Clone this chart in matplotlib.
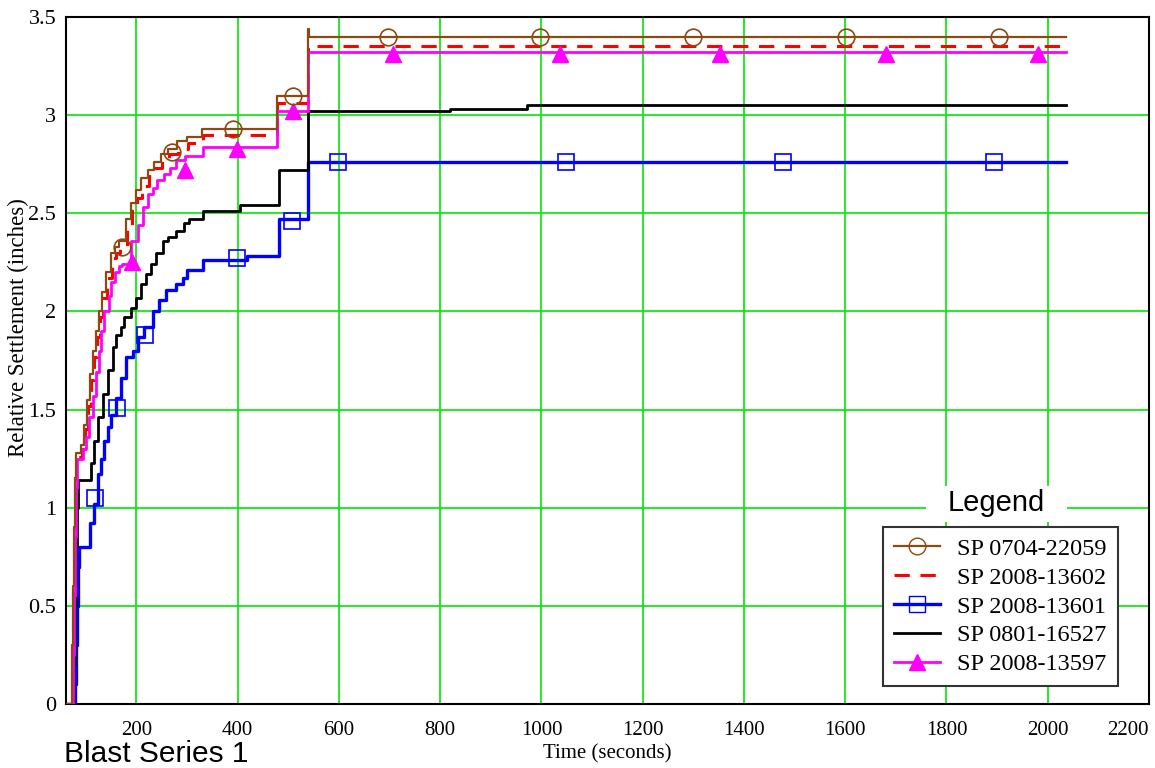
import matplotlib
matplotlib.use('Agg')
import matplotlib.pyplot as plt
from matplotlib.lines import Line2D
from matplotlib.patches import Rectangle

# step data (time in seconds, settlement in inches)
t_0704 = [61, 72, 74, 76, 78, 80, 90, 96, 102, 108, 114, 120, 126, 132, 140, 150,
          158, 166, 180, 190, 200, 210, 222, 235, 248, 262, 280, 300, 330, 478,
          539, 541, 2037]
s_0704 = [0, 0.3, 0.6, 0.9, 1.15, 1.28, 1.32, 1.42, 1.55, 1.68, 1.80, 1.90, 2.00,
          2.10, 2.20, 2.30, 2.33, 2.36, 2.47, 2.55, 2.62, 2.68, 2.72, 2.76, 2.80,
          2.83, 2.87, 2.89, 2.93, 3.10, 3.44, 3.40, 3.40]

t_13602 = [61, 73, 75, 77, 79, 81, 92, 98, 104, 110, 116, 122, 128, 134, 142, 152,
           160, 168, 182, 192, 202, 212, 224, 237, 250, 264, 282, 302, 332, 478,
           539, 2037]
s_13602 = [0, 0.3, 0.6, 0.9, 1.12, 1.26, 1.30, 1.40, 1.52, 1.65, 1.77, 1.87, 1.97,
           2.07, 2.17, 2.27, 2.30, 2.33, 2.43, 2.52, 2.58, 2.64, 2.69, 2.73, 2.77,
           2.80, 2.83, 2.86, 2.90, 3.06, 3.35, 3.35]

t_13601 = [61, 78, 80, 82, 84, 86, 109, 117, 124, 130, 136, 144, 150, 160, 170, 179,
           193, 203, 215, 233, 245, 258, 278, 292, 300, 332, 419, 481, 539, 2037]
s_13601 = [0, 0.1, 0.3, 0.5, 0.7, 0.80, 0.92, 1.02, 1.17, 1.25, 1.34, 1.41, 1.47,
           1.56, 1.66, 1.77, 1.80, 1.87, 1.92, 2.00, 2.06, 2.11, 2.14, 2.17, 2.21,
           2.26, 2.28, 2.47, 2.76, 2.76]

t_16527 = [61, 76, 78, 80, 82, 84, 111, 116, 124, 134, 144, 154, 160, 170, 175, 189,
           199, 209, 219, 228, 238, 252, 262, 278, 294, 304, 331, 405, 481, 539,
           820, 972, 2037]
s_16527 = [0, 0.2, 0.5, 0.8, 1.0, 1.14, 1.23, 1.34, 1.46, 1.58, 1.70, 1.82, 1.88,
           1.92, 1.97, 2.02, 2.07, 2.14, 2.19, 2.24, 2.30, 2.36, 2.38, 2.41, 2.45,
           2.47, 2.51, 2.54, 2.72, 3.02, 3.03, 3.05, 3.05]

t_13597 = [61, 74, 76, 78, 80, 83, 94, 100, 106, 114, 120, 126, 131, 137, 145, 150,
           158, 165, 172, 190, 203, 213, 223, 232, 240, 254, 266, 278, 296, 331,
           478, 539, 2037]
s_13597 = [0, 0.25, 0.55, 0.85, 1.1, 1.25, 1.30, 1.36, 1.46, 1.57, 1.69, 1.80, 1.90,
           2.00, 2.08, 2.15, 2.20, 2.23, 2.24, 2.36, 2.44, 2.53, 2.60, 2.63, 2.67,
           2.70, 2.73, 2.77, 2.79, 2.84, 3.02, 3.32, 3.32]

# marker positions
mk_t_0704 = [171, 270, 391, 510, 696, 998, 1299, 1601, 1903]
mk_s_0704 = [2.33, 2.81, 2.93, 3.10, 3.40, 3.40, 3.40, 3.40, 3.40]
mk_t_13601 = [118, 161, 217, 399, 508, 599, 1049, 1478, 1893]
mk_s_13601 = [1.05, 1.51, 1.88, 2.27, 2.46, 2.76, 2.76, 2.76, 2.76]
mk_t_13597 = [191, 296, 399, 509, 707, 1037, 1353, 1680, 1980]
mk_s_13597 = [2.25, 2.72, 2.83, 3.02, 3.31, 3.31, 3.31, 3.31, 3.31]

labels = ['SP 0704-22059', 'SP 2008-13602', 'SP 2008-13601',
          'SP 0801-16527', 'SP 2008-13597']
x_ticks = [200, 400, 600, 800, 1000, 1200, 1400, 1600, 1800, 2000, 2200]
y_ticks = [0, 0.5, 1, 1.5, 2, 2.5, 3, 3.5]
y_ticklabels = ['0', '0.5', '1', '1.5', '2', '2.5', '3', '3.5']

BROWN = '#8c4a12'
SERIF = 'Liberation Serif'
SANS = 'Liberation Sans'

fig = plt.figure(figsize=(11.55, 7.68), dpi=100)
ax = fig.add_axes([66 / 1155, 64 / 768, 1083 / 1155, 687 / 768])

ax.step(t_0704, s_0704, where='post', color=BROWN, lw=1.6, zorder=5)
ax.plot(mk_t_0704, mk_s_0704, ls='none', marker='o', ms=12, mfc='none',
        mec=BROWN, mew=1.2, zorder=6)
ax.step(t_13602, s_13602, where='post', color='red', lw=2.2,
        dashes=(5, 3.5), zorder=4)
ax.step(t_13601, s_13601, where='post', color='blue', lw=2.4, zorder=3)
ax.plot(mk_t_13601, mk_s_13601, ls='none', marker='s', ms=12, mfc='none',
        mec='blue', mew=1.2, zorder=3)
ax.step(t_16527, s_16527, where='post', color='black', lw=2.0, zorder=3)
ax.step(t_13597, s_13597, where='post', color='magenta', lw=2.0, zorder=4)
ax.plot(mk_t_13597, mk_s_13597, ls='none', marker='^', ms=12,
        color='magenta', zorder=4)

ax.set_xlim(61, 2200)
ax.set_ylim(0, 3.5)
ax.set_xticks(x_ticks)
ax.set_xticklabels([str(v) for v in x_ticks], family=SERIF, fontsize=15)
ax.get_xticklabels()[-1].set_horizontalalignment('right')
ax.set_yticks(y_ticks)
ax.set_yticklabels(y_ticklabels, family=SERIF, fontsize=16)
ax.tick_params(length=0)
ax.tick_params(axis='x', pad=12)
ax.tick_params(axis='y', pad=7)
ax.grid(True, color='#00e600', lw=1.2)
ax.set_axisbelow(True)
for sp in ax.spines.values():
    sp.set_color('black')
    sp.set_linewidth(1.5)

ax.set_xlabel('Time (seconds)', family=SERIF, fontsize=15, labelpad=3)
fig.text(18 / 1155, 1 - 328 / 768, 'Relative Settlement (inches)',
         family=SERIF, fontsize=16.5, rotation=90, ha='center', va='center')
fig.text(64 / 1155, 6 / 768, 'Blast Series 1', family=SANS, fontsize=21.5,
         ha='left', va='baseline')

handles = [
    Line2D([], [], color=BROWN, lw=1.6, marker='o', ms=12, mfc='none', mec=BROWN),
    Line2D([], [], color='red', lw=2.2, dashes=(5, 3.5)),
    Line2D([], [], color='blue', lw=2.4, marker='s', ms=12, mfc='none', mec='blue'),
    Line2D([], [], color='black', lw=2.0),
    Line2D([], [], color='magenta', lw=2.0, marker='^', ms=12),
]
leg = ax.legend(handles, labels, loc='upper left',
                bbox_to_anchor=(883 / 1155, 1 - 527 / 768),
                bbox_transform=fig.transFigure, borderaxespad=0,
                prop={'family': SERIF, 'size': 17.5}, fancybox=False,
                framealpha=1, edgecolor='#333333', borderpad=0.45,
                handlelength=1.9, handletextpad=0.7, labelspacing=0.28)
leg.get_frame().set_linewidth(1.5)

fig.add_artist(Rectangle((926 / 1155, 1 - 522 / 768), 141 / 1155, 36 / 768,
                         transform=fig.transFigure, fc='white', ec='none'))
fig.text(996 / 1155, 1 - 503 / 768, 'Legend', family=SANS, fontsize=21,
         ha='center', va='center')

fig.savefig('out.png', dpi=100)
